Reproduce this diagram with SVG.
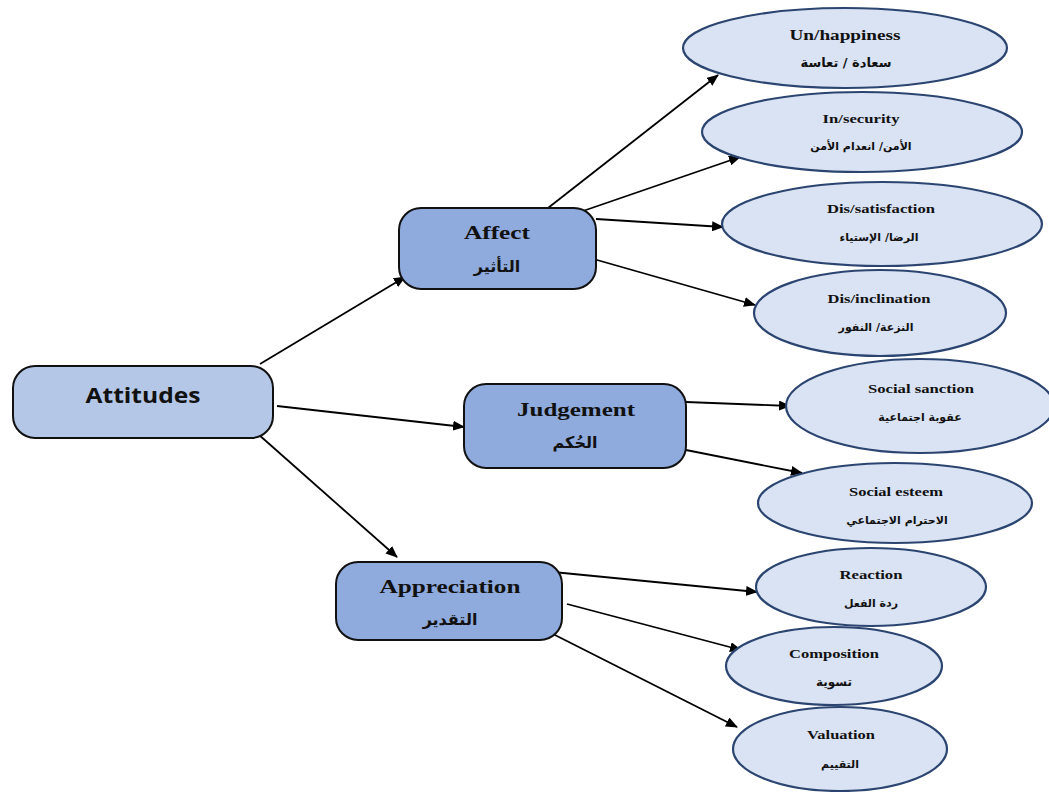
<svg xmlns="http://www.w3.org/2000/svg" width="1049" height="792" viewBox="0 0 1049 792">
<defs>
<marker id="ah" viewBox="0 0 12 10" refX="11" refY="5" markerWidth="12" markerHeight="10" markerUnits="userSpaceOnUse" orient="auto">
<path d="M0,0 L12,5 L0,10 Z" fill="#000"/>
</marker>
</defs>
<style>
.box{fill:#8faadc;stroke:#111;stroke-width:2}
.root{fill:#b4c7e7;stroke:#111;stroke-width:2}
.ell{fill:#dae3f3;stroke:#2b4570;stroke-width:2.2}
.en{font-family:"Liberation Serif",serif;font-weight:bold;fill:#111;text-anchor:middle}
.ar{font-family:"DejaVu Sans",sans-serif;font-weight:bold;fill:#111;text-anchor:middle}
.e1{font-size:13px}
.a1{font-size:11px}
.e2{font-size:18px}
.a2{font-size:16px}
.con{stroke:#000;stroke-width:1.8;fill:none;marker-end:url(#ah)}
</style>
<rect width="1049" height="792" fill="#fff"/>
<g id="connectors">
<line class="con" x1="260" y1="364" x2="405" y2="277"/>
<line class="con" x1="277" y1="406" x2="464" y2="427"/>
<line class="con" x1="258" y1="434" x2="397" y2="557"/>
<line class="con" x1="548" y1="208" x2="718" y2="75"/>
<line class="con" x1="583" y1="211" x2="740" y2="157"/>
<line class="con" x1="596" y1="219" x2="723" y2="227"/>
<line class="con" x1="590" y1="258" x2="755" y2="305"/>
<line class="con" x1="686" y1="402" x2="790" y2="406"/>
<line class="con" x1="686" y1="450" x2="802" y2="473"/>
<line class="con" x1="553" y1="572" x2="757" y2="592"/>
<line class="con" x1="567" y1="604" x2="741" y2="650"/>
<line class="con" x1="553" y1="634" x2="737" y2="727"/>
</g>
<g id="attitudes">
<rect class="root" x="13" y="366" width="260" height="72" rx="22"/>
<text x="143" y="403" font-family="'Open Sans',Lato,sans-serif" font-weight="bold" font-size="21" text-anchor="middle" fill="#111" textLength="115" lengthAdjust="spacingAndGlyphs">Attitudes</text>
</g>
<g id="affect">
<rect class="box" x="399" y="208" width="197" height="81" rx="22"/>
<text class="en e2" x="497" y="239" textLength="66" lengthAdjust="spacingAndGlyphs">Affect</text>
<text class="ar a2" x="497" y="272">التأثير</text>
</g>
<g id="judgement">
<rect class="box" x="464" y="384" width="222" height="84" rx="22"/>
<text class="en e2" x="576" y="416" textLength="118" lengthAdjust="spacingAndGlyphs">Judgement</text>
<text class="ar a2" x="575" y="448">الحُكم</text>
</g>
<g id="appreciation">
<rect class="box" x="336" y="562" width="226" height="78" rx="22"/>
<text class="en e2" x="450" y="593" textLength="141" lengthAdjust="spacingAndGlyphs">Appreciation</text>
<text class="ar a2" x="450" y="625">التقدير</text>
</g>
<g id="unhappiness">
<ellipse class="ell" cx="845" cy="48" rx="162" ry="40"/>
<text class="en" font-size="14" x="845" y="40" textLength="111" lengthAdjust="spacingAndGlyphs">Un/happiness</text>
<text class="ar" font-size="13" x="846" y="67">سعادة / تعاسة</text>
</g>
<g id="insecurity">
<ellipse class="ell" cx="862" cy="132" rx="160" ry="40"/>
<text class="en e1" x="861" y="123" textLength="77" lengthAdjust="spacingAndGlyphs">In/security</text>
<text class="ar a1" x="861" y="150">الأمن/ انعدام الأمن</text>
</g>
<g id="dissatisfaction">
<ellipse class="ell" cx="882" cy="224" rx="160" ry="42"/>
<text class="en e1" x="881" y="213" textLength="108" lengthAdjust="spacingAndGlyphs">Dis/satisfaction</text>
<text class="ar a1" x="879" y="241">الرضا/ الإستياء</text>
</g>
<g id="disinclination">
<ellipse class="ell" cx="880" cy="313" rx="126" ry="43"/>
<text class="en e1" x="879" y="303" textLength="103" lengthAdjust="spacingAndGlyphs">Dis/inclination</text>
<text class="ar a1" x="876" y="331">النزعة/ النفور</text>
</g>
<g id="socialsanction">
<ellipse class="ell" cx="920" cy="406" rx="134" ry="47"/>
<text class="en e1" x="921" y="393" textLength="106" lengthAdjust="spacingAndGlyphs">Social sanction</text>
<text class="ar a1" x="920" y="421">عقوبة اجتماعية</text>
</g>
<g id="socialesteem">
<ellipse class="ell" cx="895" cy="503" rx="137" ry="40"/>
<text class="en e1" x="896" y="496" textLength="94" lengthAdjust="spacingAndGlyphs">Social esteem</text>
<text class="ar a1" x="897" y="524">الاحترام الاجتماعي</text>
</g>
<g id="reaction">
<ellipse class="ell" cx="871" cy="587" rx="115" ry="39"/>
<text class="en e1" x="871" y="579" textLength="63" lengthAdjust="spacingAndGlyphs">Reaction</text>
<text class="ar a1" x="871" y="607">ردة الفعل</text>
</g>
<g id="composition">
<ellipse class="ell" cx="834" cy="666" rx="108" ry="39"/>
<text class="en e1" x="834" y="658" textLength="90" lengthAdjust="spacingAndGlyphs">Composition</text>
<text class="ar" font-size="12" x="834" y="686">تسوية</text>
</g>
<g id="valuation">
<ellipse class="ell" cx="840" cy="749" rx="107" ry="42"/>
<text class="en e1" x="841" y="739" textLength="68" lengthAdjust="spacingAndGlyphs">Valuation</text>
<text class="ar a1" x="840" y="768">التقييم</text>
</g>
</svg>
